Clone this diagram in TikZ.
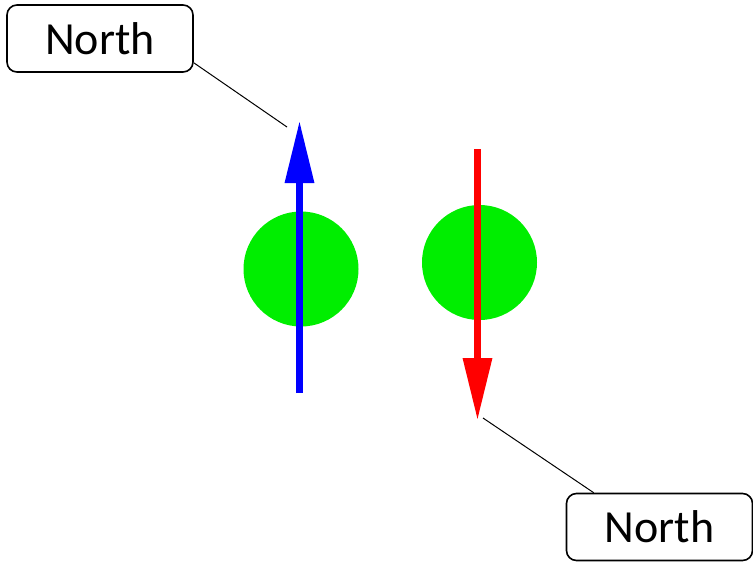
\documentclass[tikz,border=0pt]{standalone}
\usepackage{fontspec}
\setmainfont{Carlito}
\usetikzlibrary{arrows.meta}
\begin{document}
\begin{tikzpicture}[x=1pt,y=-1pt,
  label/.style={draw=black, line width=1.6pt, rounded corners=10pt, fill=white,
    minimum width=186pt, minimum height=67pt, inner sep=0pt,
    font=\fontsize{46}{50}\selectfont},
  ball/.style={fill=green!90!black, draw=none},
  vec/.style={line width=6.5pt, -{Triangle[length=62pt,width=28pt]}},
  leader/.style={draw=black, line width=1pt}]
\useasboundingbox (0,0) rectangle (753,566);
\fill[white] (0,0) rectangle (753,566);
\definecolor{ballgreen}{RGB}{0,238,0}
\fill[ballgreen] (301,269) circle (57.5);
\fill[ballgreen] (479.5,262.5) circle (57.5);
\coordinate (b0) at (299.5,393);
\coordinate (b1) at (299.5,121);
\coordinate (r0) at (477.5,149);
\coordinate (r1) at (477.5,420);
\draw[vec, blue] (b0) -- (b1);
\draw[vec, red] (r0) -- (r1);
\node[label] (lab1) at (100,38.5) {North};
\node[label] (lab2) at (659.5,527) {North};
\coordinate (t1) at (287,127);
\coordinate (t2) at (483,418);
\draw[leader] ([yshift=10pt]lab1.south east) -- (t1);
\draw[leader] ([xshift=28pt]lab2.north west) -- (t2);
\end{tikzpicture}
\end{document}
